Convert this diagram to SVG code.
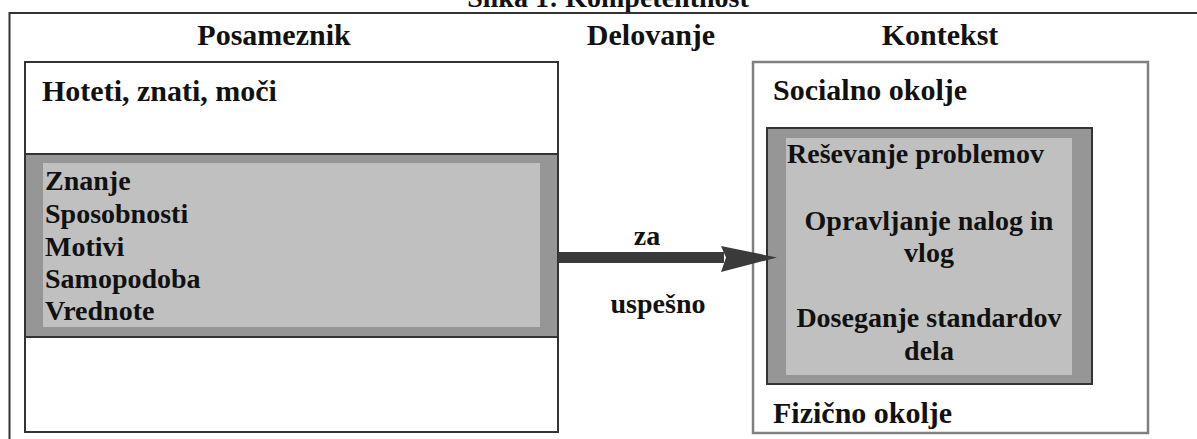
<svg xmlns="http://www.w3.org/2000/svg" width="1197" height="439" viewBox="0 0 1197 439">
<style>
text{font-family:"Liberation Serif","Times New Roman",serif;font-weight:bold;fill:#111}
.h{font-size:30px}
.t{font-size:28px}
.box{fill:#fff;stroke:#333;stroke-width:2}
.box2{fill:#fff;stroke:#808080;stroke-width:2.5}
.band{fill:#969696;stroke:#333;stroke-width:2}
.inner{fill:#c0c0c0}
</style>
<rect width="1197" height="439" fill="#fff"/>
<text class="t" x="608" y="7" text-anchor="middle">Slika 1: Kompetentnost</text>
<g id="frame">
<path d="M1197 13H9.5V439" fill="none" stroke="#333" stroke-width="2"/>
</g>
<text class="h" x="274" y="45" text-anchor="middle">Posameznik</text>
<text class="h" x="651" y="45" text-anchor="middle">Delovanje</text>
<text class="h" x="940" y="45" text-anchor="middle">Kontekst</text>
<g id="posameznik">
<rect class="box" x="25" y="62" width="533" height="370"/>
<text class="h" x="42" y="101">Hoteti, znati, moči</text>
</g>
<g id="lastnosti">
<rect class="band" x="25" y="154" width="533" height="183"/>
<rect class="inner" x="43" y="163" width="497" height="164"/>
<text class="t" x="45" y="190">Znanje</text>
<text class="t" x="45" y="223">Sposobnosti</text>
<text class="t" x="45" y="256">Motivi</text>
<text class="t" x="45" y="288">Samopodoba</text>
<text class="t" x="45" y="320">Vrednote</text>
</g>
<g id="kontekst">
<rect class="box2" x="753" y="62" width="395" height="371"/>
<text class="h" x="773" y="100">Socialno okolje</text>
<text class="h" x="773" y="423">Fizično okolje</text>
</g>
<g id="delovanje">
<rect class="band" x="767" y="128" width="325" height="256"/>
<rect class="inner" x="786" y="138" width="286" height="237"/>
<text class="t" x="787" y="163">Reševanje problemov</text>
<text class="t" x="929" y="230" text-anchor="middle">Opravljanje nalog in</text>
<text class="t" x="929" y="262" text-anchor="middle">vlog</text>
<text class="t" x="929" y="327" text-anchor="middle">Doseganje standardov</text>
<text class="t" x="929" y="360" text-anchor="middle">dela</text>
</g>
<g id="connectors">
<rect x="558" y="252" width="166" height="11" fill="#3a3a3a"/>
<polygon points="721,246 777,257.5 721,272 726,257.5" fill="#3a3a3a"/>
<text class="t" x="647" y="245" text-anchor="middle">za</text>
<text class="t" x="658" y="313" text-anchor="middle">uspešno</text>
</g>
</svg>
